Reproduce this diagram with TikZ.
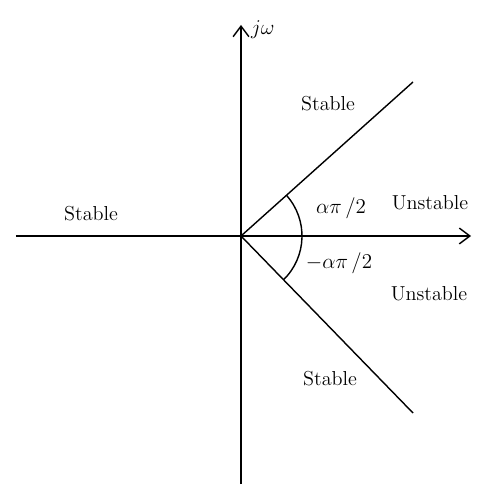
\documentclass[tikz,border=0pt]{standalone}
\usepackage{amsmath,amssymb}
\usepackage{tikz}
\usetikzlibrary{arrows.meta, positioning, calc}
\tikzset{
  axis/.style={thick, -{Straight Barb[length=6pt, width=9pt]}},
  ray/.style={thick},
  region/.style={font=\fontsize{11.5}{13}\selectfont},
  anglbl/.style={font=\fontsize{12.5}{14}\selectfont},
}

\begin{document}
\begin{tikzpicture}
  \useasboundingbox (-4.82,-5.28) rectangle (4.96,4.72);

  % Origin and ray ends
  \coordinate (O) at (0,0);
  \coordinate (xmin) at (-4.5,0);
  \coordinate (xmax) at (4.6,0);
  \coordinate (ymin) at (0,-4.96);
  \coordinate (ymax) at (0,4.22);
  \coordinate (up) at (3.44,3.08);
  \coordinate (dn) at (3.44,-3.54);

  % Axes
  \draw[axis] (xmin) -- (xmax);
  \draw[axis] (ymin) -- (ymax);
  \node[anglbl, anchor=south west] (jw) at (0.08,3.82) {$j\omega$};

  % Stability boundary rays
  \draw[ray] (O) -- (up);
  \draw[ray] (O) -- (dn);
  \draw[thick] (O) ++(41.8:1.22) arc[start angle=41.8, end angle=-45.8, radius=1.22];

  % Angle labels
  \node[anglbl] (ap) at (2.0,0.56) {$\alpha\pi\,/2$};
  \node[anglbl] (am) at (1.96,-0.54) {$-\alpha\pi\,/2$};

  % Regions
  \node[region] (stup) at (1.74,2.64) {Stable};
  \node[region] (stleft) at (-3.0,0.44) {Stable};
  \node[region] (stdn) at (1.78,-2.86) {Stable};
  \node[region] (unup) at (3.78,0.66) {Unstable};
  \node[region] (undn) at (3.76,-1.16) {Unstable};

\end{tikzpicture}
\end{document}
